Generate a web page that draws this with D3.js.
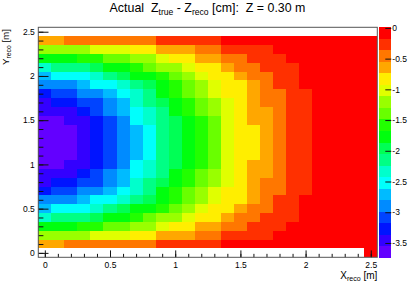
<!DOCTYPE html>
<html><head><meta charset="utf-8">
<script src="https://cdn.jsdelivr.net/npm/d3@7"></script>
<style>
body{margin:0;background:#fff}
svg{display:block}
text{font-family:"Liberation Sans",Arial,Helvetica,sans-serif;fill:#000}
</style>
</head><body>
<svg id="c" width="415" height="286"></svg>
<script>
// ---- data ----
const xBins = [0,0.1,0.2,0.3,0.4,0.5,0.6,0.7,0.8,0.9,1.0,1.1,1.2,1.3,1.4,1.5,1.6,1.7,1.8,1.9,2.0,2.1,2.2,2.3,2.4,2.5];
const yBins = [2.4,2.3,2.2,2.1,2.0,1.9,1.8,1.7,1.6,1.5,1.4,1.3,1.2,1.1,1.0,0.9,0.8,0.7,0.6,0.5,0.4,0.3,0.2,0.1,0.0];
const N = null;
const zValues = [
 [-0.65,-0.65,-0.46,-0.46,-0.46,-0.46,-0.46,-0.46,-0.46,-0.27,-0.27,-0.27,-0.27,-0.27,-0.12,-0.10,-0.09,-0.08,-0.07,-0.06,-0.05,-0.05,-0.04,-0.04,-0.03,-0.03],
 [-1.21,-1.21,-1.21,-1.21,-1.02,-1.02,-1.02,-0.83,-0.83,-0.65,-0.65,-0.65,-0.46,-0.46,-0.27,-0.27,-0.27,-0.27,-0.12,-0.10,-0.08,-0.07,-0.06,-0.05,-0.04,-0.04],
 [-1.77,-1.77,-1.77,-1.58,-1.58,-1.40,-1.40,-1.21,-1.21,-1.02,-0.83,-0.83,-0.65,-0.65,-0.46,-0.46,-0.27,-0.27,-0.27,-0.12,-0.10,-0.08,-0.07,-0.06,-0.05,-0.05],
 [-2.33,-2.15,-2.15,-2.15,-1.96,-1.77,-1.77,-1.58,-1.40,-1.21,-1.21,-1.02,-0.83,-0.83,-0.65,-0.46,-0.46,-0.27,-0.27,-0.27,-0.12,-0.10,-0.08,-0.07,-0.06,-0.05],
 [-2.71,-2.52,-2.52,-2.52,-2.33,-2.15,-1.96,-1.77,-1.77,-1.58,-1.40,-1.21,-1.02,-0.83,-0.83,-0.65,-0.46,-0.46,-0.27,-0.27,-0.12,-0.10,-0.08,-0.07,-0.06,-0.05],
 [-2.90,-2.90,-2.90,-2.71,-2.52,-2.52,-2.33,-2.15,-1.96,-1.77,-1.58,-1.40,-1.21,-1.02,-0.83,-0.83,-0.65,-0.46,-0.27,-0.27,-0.12,-0.10,-0.08,-0.07,-0.06,-0.05],
 [-3.27,-3.08,-3.08,-2.90,-2.90,-2.71,-2.52,-2.33,-2.15,-1.77,-1.58,-1.40,-1.21,-1.02,-0.83,-0.83,-0.65,-0.46,-0.46,-0.27,-0.27,-0.12,-0.10,-0.08,-0.07,-0.06],
 [-3.46,-3.27,-3.27,-3.08,-3.08,-2.90,-2.71,-2.33,-2.15,-1.96,-1.77,-1.58,-1.40,-1.21,-1.02,-0.83,-0.65,-0.46,-0.46,-0.27,-0.27,-0.12,-0.10,-0.08,-0.07,-0.06],
 [-3.46,-3.46,-3.46,-3.27,-3.08,-2.90,-2.71,-2.52,-2.33,-2.15,-1.77,-1.58,-1.40,-1.21,-1.02,-0.83,-0.65,-0.65,-0.46,-0.27,-0.27,-0.12,-0.10,-0.08,-0.07,-0.06],
 [-3.65,-3.65,-3.46,-3.46,-3.27,-3.08,-2.90,-2.52,-2.33,-2.15,-1.96,-1.77,-1.58,-1.40,-1.02,-0.83,-0.65,-0.65,-0.46,-0.27,-0.27,-0.12,-0.10,-0.08,-0.07,-0.06],
 [-3.65,-3.65,-3.65,-3.46,-3.27,-3.08,-2.90,-2.71,-2.52,-2.15,-1.96,-1.77,-1.58,-1.40,-1.02,-0.83,-0.83,-0.65,-0.46,-0.27,-0.27,-0.12,-0.10,-0.08,-0.07,-0.06],
 [-3.70,-3.68,-3.66,-3.46,-3.27,-3.08,-2.90,-2.71,-2.52,-2.15,-1.96,-1.77,-1.58,-1.40,-1.02,-0.83,-0.83,-0.65,-0.46,-0.27,-0.27,-0.12,-0.10,-0.08,-0.07,-0.06],
 [-3.70,-3.68,-3.66,-3.46,-3.27,-3.08,-2.90,-2.71,-2.52,-2.15,-1.96,-1.77,-1.58,-1.40,-1.02,-0.83,-0.83,-0.65,-0.46,-0.27,-0.27,-0.12,-0.10,-0.08,-0.07,-0.06],
 [-3.65,-3.65,-3.65,-3.46,-3.27,-3.08,-2.90,-2.71,-2.52,-2.15,-1.96,-1.77,-1.58,-1.40,-1.02,-0.83,-0.83,-0.65,-0.46,-0.27,-0.27,-0.12,-0.10,-0.08,-0.07,-0.06],
 [-3.65,-3.65,-3.46,-3.46,-3.27,-3.08,-2.90,-2.52,-2.33,-2.15,-1.96,-1.77,-1.58,-1.40,-1.02,-0.83,-0.65,-0.65,-0.46,-0.27,-0.27,-0.12,-0.10,-0.08,-0.07,-0.06],
 [-3.46,-3.46,-3.46,-3.27,-3.08,-2.90,-2.71,-2.52,-2.33,-2.15,-1.77,-1.58,-1.40,-1.21,-1.02,-0.83,-0.65,-0.65,-0.46,-0.27,-0.27,-0.12,-0.10,-0.08,-0.07,-0.06],
 [-3.46,-3.27,-3.27,-3.08,-3.08,-2.90,-2.71,-2.33,-2.15,-1.96,-1.77,-1.58,-1.40,-1.21,-1.02,-0.83,-0.65,-0.46,-0.46,-0.27,-0.27,-0.12,-0.10,-0.08,-0.07,-0.06],
 [-3.27,-3.08,-3.08,-2.90,-2.90,-2.71,-2.52,-2.33,-2.15,-1.77,-1.58,-1.40,-1.21,-1.02,-0.83,-0.83,-0.65,-0.46,-0.46,-0.27,-0.27,-0.12,-0.10,-0.08,-0.07,-0.06],
 [-2.90,-2.90,-2.90,-2.71,-2.52,-2.52,-2.33,-2.15,-1.96,-1.77,-1.58,-1.40,-1.21,-1.02,-0.83,-0.83,-0.65,-0.46,-0.27,-0.27,-0.12,-0.10,-0.08,-0.07,-0.06,-0.05],
 [-2.71,-2.52,-2.52,-2.52,-2.33,-2.15,-1.96,-1.77,-1.77,-1.58,-1.40,-1.21,-1.02,-0.83,-0.83,-0.65,-0.46,-0.46,-0.27,-0.27,-0.12,-0.10,-0.08,-0.07,-0.06,-0.05],
 [-2.33,-2.15,-2.15,-2.15,-1.96,-1.77,-1.77,-1.58,-1.40,-1.21,-1.21,-1.02,-0.83,-0.83,-0.65,-0.46,-0.46,-0.27,-0.27,-0.27,-0.12,-0.10,-0.08,-0.07,-0.06,-0.05],
 [-1.77,-1.77,-1.77,-1.58,-1.58,-1.40,-1.40,-1.21,-1.21,-1.02,-0.83,-0.83,-0.65,-0.65,-0.46,-0.46,-0.27,-0.27,-0.27,-0.12,-0.10,-0.08,-0.07,-0.06,-0.05,-0.05],
 [-1.21,-1.21,-1.21,-1.21,-1.02,-1.02,-1.02,-0.83,-0.83,-0.65,-0.65,-0.65,-0.46,-0.46,-0.27,-0.27,-0.27,-0.27,-0.12,-0.10,-0.08,-0.07,-0.06,-0.05,-0.04,-0.04],
 [-0.65,-0.65,-0.46,-0.46,-0.46,-0.46,-0.46,-0.46,-0.46,-0.27,-0.27,-0.27,-0.27,-0.27,-0.12,-0.10,-0.09,-0.08,-0.07,-0.06,-0.05,-0.05,-0.04,-0.04,-0.03,-0.03],
 [N,N,N,N,N,N,N,N,N,N,N,N,N,N,N,N,N,N,N,N,N,N,N,N,N,-0.05]
];
const zRange = [-3.74, 0.01];
const xTickValues = [0,0.5,1,1.5,2,2.5];
const xTickLabels = ["0","0.5","1","1.5","2","2.5"];
const yTickValues = [0,0.5,1,1.5,2,2.5];
const yTickLabels = ["0","0.5","1","1.5","2","2.5"];
const zTickValues = [0,-0.5,-1,-1.5,-2,-2.5,-3,-3.5];
const zTickLabels = ["0","-0.5","-1","-1.5","-2","-2.5","-3","-3.5"];

// ---- layout ----
const svg = d3.select("#c");
const F = {left:38.3, right:377.3, top:27.3, bottom:257.3};
const x = d3.scaleLinear().domain([-0.05,2.55]).range([F.left,F.right]);
const y = d3.scaleLinear().domain([-0.05,2.55]).range([F.bottom,F.top]);
const halfBin = 0.05;

// ROOT "pretty palette" (violet -> red) with 20 contour levels
const nLevels = 20;
const levelColors = d3.range(nLevels).map(j=>{
  const k = Math.floor((j+0.99)*50/nLevels);
  if (k>=49) return "rgb(255,0,0)";
  return d3.hsl(280-(k+1)*5.6,1,0.5).formatRgb();
});
const color = d3.scaleQuantize().domain(zRange).range(levelColors);

// cells
const cells = [];
yBins.forEach((yv,i)=>xBins.forEach((xv,j)=>{
  const v = zValues[i][j];
  if (v!==null) cells.push({xv,yv,v});
}));
svg.append("g").selectAll("rect").data(cells).join("rect")
  .attr("x",d=>x(d.xv-halfBin))
  .attr("y",d=>y(d.yv+halfBin))
  .attr("width",d=>x(d.xv+halfBin)-x(d.xv-halfBin))
  .attr("height",d=>y(d.yv-halfBin)-y(d.yv+halfBin))
  .attr("fill",d=>color(d.v))
  .attr("shape-rendering","crispEdges");

// axes
const fs = 8.5;
function styleAxis(g){
  g.select(".domain").remove();
  g.selectAll("line").attr("stroke","#111").attr("stroke-width",1);
  g.selectAll("text").attr("font-size",fs).attr("fill","#000")
    .style("font-family",'"Liberation Sans",Arial,sans-serif');
}
const xMinor = d3.range(0,26).map(i=>i/10);
svg.append("g").attr("transform",`translate(0,${F.bottom})`)
  .call(d3.axisBottom(x).tickValues(xMinor).tickSize(-3.45).tickFormat(""))
  .call(styleAxis);
svg.append("g").attr("transform",`translate(0,${F.bottom})`)
  .call(d3.axisBottom(x).tickValues(xTickValues).tickSize(-6.9).tickPadding(5)
    .tickFormat((d,i)=>xTickLabels[i]))
  .call(styleAxis);
svg.append("g").attr("transform",`translate(${F.left},0)`)
  .call(d3.axisLeft(y).tickValues(xMinor).tickSize(-5.1).tickFormat(""))
  .call(styleAxis);
svg.append("g").attr("transform",`translate(${F.left},0)`)
  .call(d3.axisLeft(y).tickValues(yTickValues).tickSize(-10.2).tickPadding(3.5)
    .tickFormat((d,i)=>yTickLabels[i]))
  .call(styleAxis);

// frame
svg.append("rect").attr("x",F.left).attr("y",F.top)
  .attr("width",F.right-F.left).attr("height",F.bottom-F.top)
  .attr("fill","none").attr("stroke","#555").attr("stroke-width",1);

// colour bar
const CB = {left:379, right:391.3, top:27.3, bottom:257.7};
const z = d3.scaleLinear().domain(zRange).range([CB.bottom,CB.top]);
const dz = (zRange[1]-zRange[0])/nLevels;
svg.append("g").selectAll("rect").data(levelColors).join("rect")
  .attr("x",CB.left).attr("width",CB.right-CB.left)
  .attr("y",(c,j)=>z(zRange[0]+(j+1)*dz))
  .attr("height",(c,j)=>z(zRange[0]+j*dz)-z(zRange[0]+(j+1)*dz))
  .attr("fill",c=>c).attr("shape-rendering","crispEdges");
svg.append("g").attr("transform",`translate(${CB.right},0)`)
  .call(d3.axisRight(z).tickValues(zTickValues).tickSize(-6).tickPadding(1)
    .tickFormat((d,i)=>zTickLabels[i]))
  .call(styleAxis);

// title
const t = svg.append("text").attr("x",207.5).attr("y",12).attr("text-anchor","middle")
  .attr("font-size",12.4).style("white-space","pre");
t.append("tspan").text("Actual  Z");
t.append("tspan").attr("font-size",8.6).attr("dy",3).text("true");
t.append("tspan").attr("dy",-3).text(" - Z");
t.append("tspan").attr("font-size",8.6).attr("dy",3).text("reco");
t.append("tspan").attr("dy",-3).text(" [cm]:  Z = 0.30 m");

// x title
const xt = svg.append("text").attr("x",F.right).attr("y",279).attr("text-anchor","end")
  .attr("font-size",10).style("white-space","pre");
xt.append("tspan").text("X");
xt.append("tspan").attr("font-size",7).attr("dy",2.3).text("reco");
xt.append("tspan").attr("dy",-2.3).text(" [m]");

// y title
const yt = svg.append("text").attr("transform","translate(9,29) rotate(-90)")
  .attr("text-anchor","end").attr("font-size",9.8).style("white-space","pre");
yt.append("tspan").text("Y");
yt.append("tspan").attr("font-size",6.8).attr("dy",2.3).text("reco");
yt.append("tspan").attr("dy",-2.3).text(" [m]");
</script>
</body></html>
